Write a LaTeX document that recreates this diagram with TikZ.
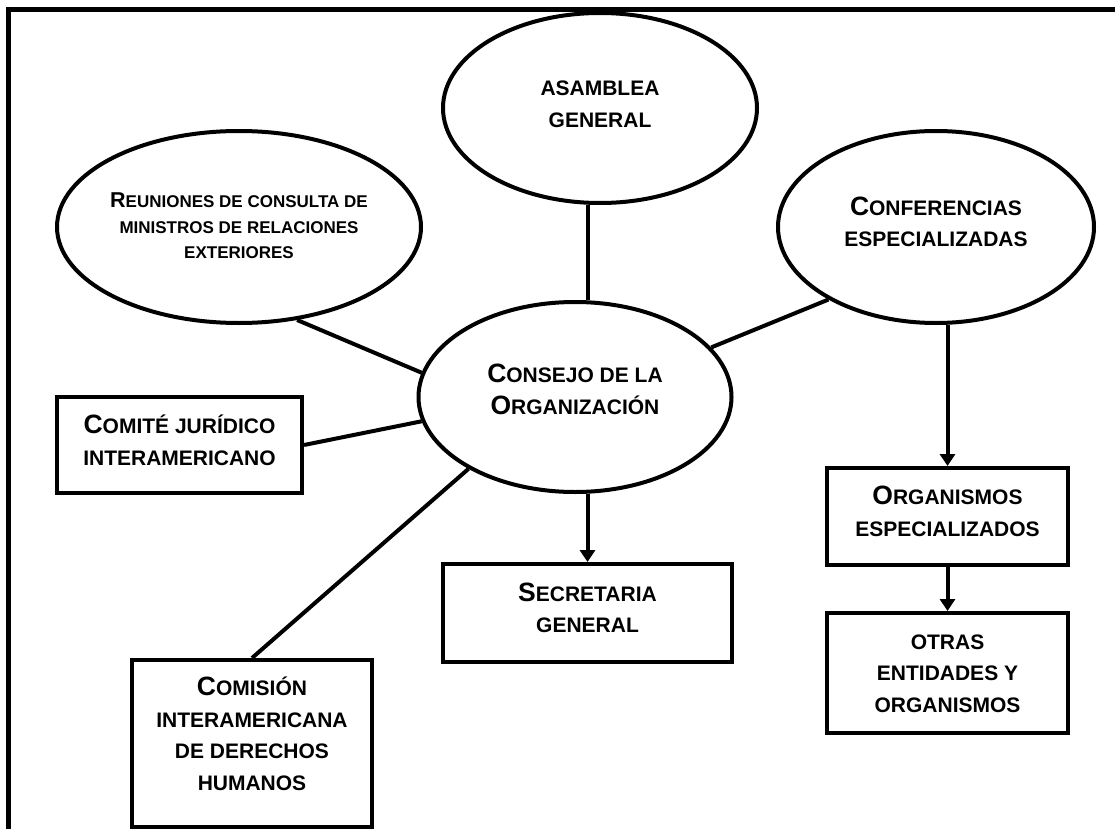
\documentclass[tikz,border=0pt]{standalone}
\usepackage{fontspec}
\setmainfont{Liberation Sans}
\usetikzlibrary{shapes.geometric,arrows.meta}

\newcommand\Ini[1]{{\fontsize{26.5}{31.5}\selectfont #1}}
\newcommand\IniS[1]{{\fontsize{21.5}{25.5}\selectfont #1}}

\begin{document}
\begin{tikzpicture}[x=1pt,y=-1pt,
  oval/.style={ellipse,draw,line width=4pt,inner sep=0pt,align=center,text height=46.5pt,font=\fontsize{21}{31.5}\selectfont\bfseries},
  box/.style={rectangle,draw,line width=4pt,inner sep=0pt,align=center,text height=46.5pt,font=\fontsize{21}{31.5}\selectfont\bfseries},
  link/.style={line width=4pt},
  arr/.style={line width=4pt,-{Triangle[length=12pt,width=15pt]}}]
\useasboundingbox (0,0) rectangle (1115,829);
% frame
\draw[line width=5pt] (8.5,829) -- (8.5,10) -- (1115,10);
% ellipses
\node[oval,minimum width=314pt,minimum height=190pt,text depth=8pt] (asamblea) at (600,108) {ASAMBLEA\\GENERAL};
\node[oval,minimum width=364pt,minimum height=192pt,inner xsep=-6pt,text height=63pt,text depth=0pt,
  font=\fontsize{17}{25.5}\selectfont\bfseries] (reuniones) at (239,227)
  {\IniS{R}EUNIONES DE CONSULTA DE\\MINISTROS DE RELACIONES\\EXTERIORES};
\node[oval,minimum width=316pt,minimum height=192pt,text depth=7pt] (conferencias) at (936,227) {\Ini{C}ONFERENCIAS\\ESPECIALIZADAS};
\node[oval,minimum width=313pt,minimum height=190pt,text depth=12pt] (consejo) at (575,397) {\Ini{C}ONSEJO DE LA\\\Ini{O}RGANIZACIÓN};
% boxes
\node[box,minimum width=245pt,minimum height=96pt,text depth=6pt] (comite) at (179.5,445) {\Ini{C}OMITÉ JURÍDICO\\INTERAMERICANO};
\node[box,minimum width=289pt,minimum height=98pt,text depth=7pt] (secretaria) at (587.5,613) {\Ini{S}ECRETARIA\\GENERAL};
\node[box,minimum width=240pt,minimum height=167pt,text height=109.5pt,text depth=16pt] (comision) at (252,743.5)
  {\Ini{C}OMISIÓN\\INTERAMERICANA\\DE DERECHOS\\HUMANOS};
\node[box,minimum width=241pt,minimum height=97pt,text depth=7pt] (organismos) at (947.5,516.5) {\Ini{O}RGANISMOS\\ESPECIALIZADOS};
\node[box,minimum width=241pt,minimum height=120pt,text height=78pt,text depth=0pt] (otras) at (947.5,673) {OTRAS\\ENTIDADES Y\\ORGANISMOS};
% connectors
\draw[link] (asamblea.south -| secretaria) -- (consejo.north -| secretaria);
\draw[link] (reuniones.-58) -- (consejo.171);
\draw[link] (conferencias.214) -- (consejo.20);
\draw[link] (comite.east) -- (consejo.189);
\draw[link] (consejo.214) -- (comision.north);
\draw[arr] (consejo.south -| secretaria) -- (secretaria.north);
\draw[arr] (conferencias.south -| organismos) -- (organismos.north);
\draw[arr] (organismos) -- (otras);
\end{tikzpicture}
\end{document}
